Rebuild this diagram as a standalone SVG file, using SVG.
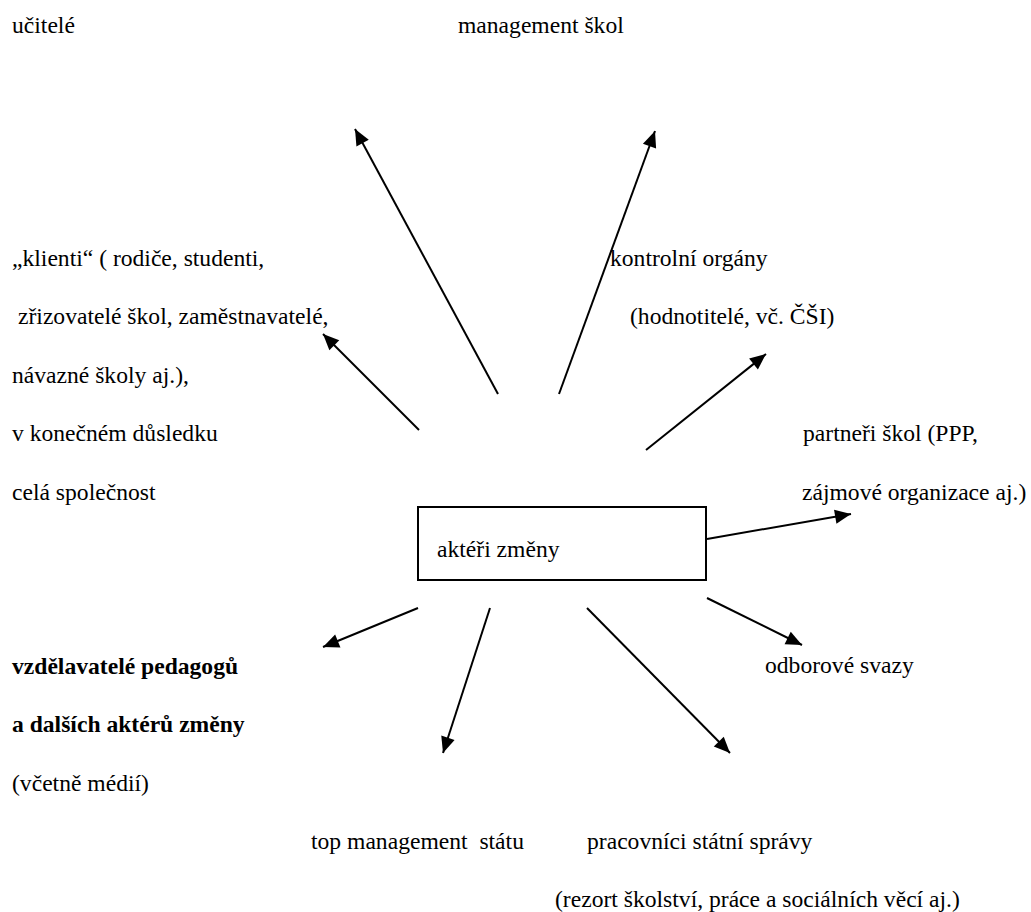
<svg xmlns="http://www.w3.org/2000/svg" width="1031" height="912" viewBox="0 0 1031 912">
<style>
text{font-family:"Liberation Serif","Times New Roman",serif;font-size:23.6px;fill:#000}
.b{font-weight:bold}
.c line{stroke:#000;stroke-width:2;marker-end:url(#ah)}
.box{fill:#fff;stroke:#000;stroke-width:2}
</style>
<defs>
<marker id="ah" markerUnits="userSpaceOnUse" markerWidth="20" markerHeight="20" viewBox="0 0 20 20" refX="18" refY="10" orient="auto">
<path d="M2,3 L18,10 L2,17 Z" fill="#000"/>
</marker>
</defs>
<rect width="1031" height="912" fill="#fff"/>
<g id="connectors" class="c">
<line x1="498" y1="394" x2="355" y2="129"/>
<line x1="559" y1="394" x2="655" y2="131"/>
<line x1="419" y1="430" x2="323" y2="334"/>
<line x1="646" y1="450" x2="766" y2="354"/>
<line x1="707" y1="539" x2="851" y2="514"/>
<line x1="418" y1="608" x2="323" y2="647"/>
<line x1="490" y1="608" x2="443" y2="753"/>
<line x1="587" y1="608" x2="730" y2="753"/>
<line x1="707" y1="598" x2="802" y2="645"/>
</g>
<g id="center"><rect class="box" x="418" y="507" width="288" height="73"/><text x="437" y="557">aktéři změny</text></g>
<g id="ucitele"><text x="12" y="33">učitelé</text></g>
<g id="management"><text x="458" y="33">management škol</text></g>
<g id="klienti">
<text x="12" y="266">„klienti“ ( rodiče, studenti,</text>
<text x="18" y="324">zřizovatelé škol, zaměstnavatelé,</text>
<text x="12" y="383">návazné školy aj.),</text>
<text x="12" y="441">v konečném důsledku</text>
<text x="12" y="500">celá společnost</text>
</g>
<g id="kontrolni">
<text x="610" y="266">kontrolní orgány</text>
<text x="630" y="324">(hodnotitelé, vč. ČŠI)</text>
</g>
<g id="partneri">
<text x="803" y="441">partneři škol (PPP,</text>
<text x="802" y="500">zájmové organizace aj.)</text>
</g>
<g id="odbory"><text x="765" y="673">odborové svazy</text></g>
<g id="vzdelavatele">
<text class="b" x="12" y="674">vzdělavatelé pedagogů</text>
<text class="b" x="12" y="732">a dalších aktérů změny</text>
<text x="12" y="791">(včetně médií)</text>
</g>
<g id="top"><text x="311" y="849" style="white-space:pre">top management  státu</text></g>
<g id="pracovnici">
<text x="587" y="849">pracovníci státní správy</text>
<text x="555" y="907">(rezort školství, práce a sociálních věcí aj.)</text>
</g>
</svg>
